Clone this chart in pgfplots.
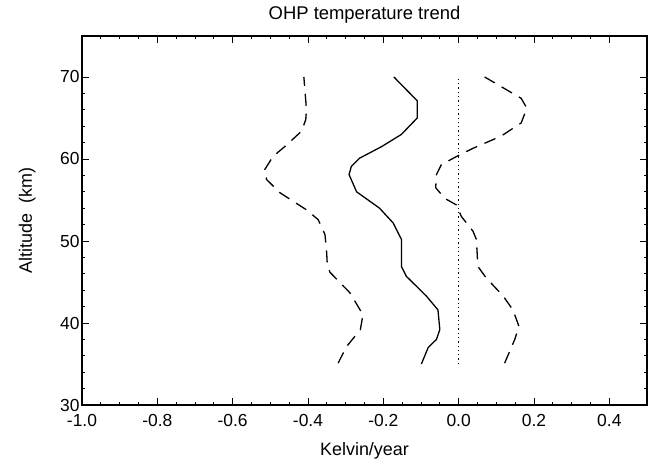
\documentclass[border=0pt]{standalone}
\usepackage{pgfplots}
\pgfplotsset{compat=1.18}
\usepackage{fontspec}
\setmainfont{Liberation Sans}
\begin{document}
\begin{tikzpicture}
\begin{axis}[
  scale only axis,
  width=565bp, height=369bp,
  xmin=-1.0, xmax=0.5, ymin=30, ymax=75,
  xtick={-1,-0.8,-0.6,-0.4,-0.2,0,0.2,0.4},
  xticklabels={-1.0,-0.8,-0.6,-0.4,-0.2,0.0,0.2,0.4},
  ytick={30,40,50,60,70},
  yticklabels={30,40,50,60,70},
  minor x tick num=3, minor y tick num=4,
  tick align=inside,
  major tick length=7bp, minor tick length=3.5bp,
  every tick/.style={black, line width=0.9bp},
  axis line style={line width=1.2bp},
  font=\fontsize{18}{21}\selectfont,
  ticklabel style={font=\fontsize{17.5}{21}\selectfont},
  xticklabel style={anchor=base, yshift=-21.5bp},
  yticklabel style={xshift=1bp},
  title={OHP temperature trend},
  title style={at={(axis description cs:0.5,1.0298)}, anchor=base, yshift=0pt, font=\fontsize{18.5}{22}\selectfont},
  xlabel={Kelvin/year},
  xlabel style={at={(axis description cs:0.5,-0.1382)}, anchor=base},
  ylabel={Altitude\ \ (km)},
  ylabel style={at={(axis description cs:-0.0885,0.5)}, anchor=base},
]
% central trend (solid)
\addplot[black, line width=1.3bp] coordinates {
(-0.099,35.0) (-0.081,37.0) (-0.059,38.0) (-0.050,39.2) (-0.055,41.6) (-0.086,43.3)
(-0.139,45.7) (-0.152,46.9) (-0.152,50.2) (-0.174,52.2) (-0.210,54.0) (-0.271,56.0)
(-0.291,58.1) (-0.285,59.1) (-0.263,60.1) (-0.205,61.5) (-0.152,63.0) (-0.110,65.0)
(-0.110,67.1) (-0.172,70.0)
};
% left bound (dashed)
\addplot[black, line width=1.3bp, dash pattern=on 12bp off 8bp] coordinates {
(-0.320,35.1) (-0.298,37.1) (-0.261,39.2) (-0.254,41.0) (-0.289,43.7) (-0.342,46.2)
(-0.349,47.3) (-0.351,49.0) (-0.355,50.8) (-0.373,52.6) (-0.404,53.8) (-0.475,55.9)
(-0.510,57.5) (-0.515,58.7) (-0.493,60.3) (-0.457,61.7) (-0.417,63.4) (-0.406,64.8)
(-0.404,66.0) (-0.411,70.0)
};
% right bound (dashed)
\addplot[black, line width=1.3bp, dash pattern=on 12bp off 8bp] coordinates {
(0.122,35.1) (0.149,38.0) (0.160,39.6) (0.144,41.6) (0.118,43.3) (0.073,45.5)
(0.051,46.9) (0.047,50.2) (0.038,51.2) (0.007,53.0) (-0.006,54.4) (-0.037,55.2)
(-0.061,56.5) (-0.059,58.1) (-0.046,59.3) (-0.006,60.3) (0.038,61.3) (0.113,62.8)
(0.166,64.4) (0.181,66.2) (0.166,67.4) (0.069,70.0)
};
% zero line (dotted)
\addplot[black, line width=1.3bp, dash pattern=on 1.3bp off 3bp] coordinates {
(0,35) (0,70)
};
\end{axis}
\pgfresetboundingbox
\path[use as bounding box] ([shift={(-82bp,-59bp)}]current axis.south west) rectangle ([shift={(573bp,405bp)}]current axis.south west);
\end{tikzpicture}
\end{document}
